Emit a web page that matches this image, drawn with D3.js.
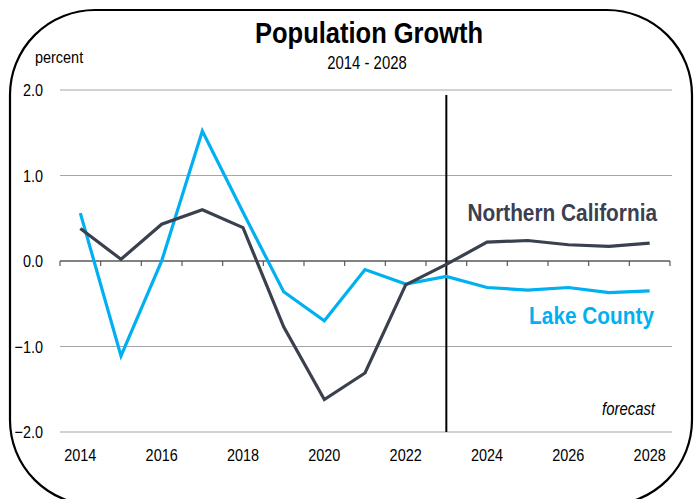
<!DOCTYPE html>
<html>
<head>
<meta charset="utf-8">
<script src="https://cdn.jsdelivr.net/npm/d3@7"></script>
<style>
  body { margin: 0; background: #fff; }
  svg { display: block; font-family: "Liberation Sans Narrow", "Arial Narrow", "Liberation Sans", Arial, sans-serif; }
</style>
</head>
<body>
<svg id="chart" width="694" height="499"></svg>
<script>
// Data
const years = d3.range(2014, 2029);
const norCal = [0.38, 0.02, 0.43, 0.60, 0.39, -0.77, -1.62, -1.31, -0.28, -0.04, 0.22, 0.24, 0.19, 0.17, 0.21];
const lakeCounty = [0.56, -1.11, 0.0, 1.52, 0.57, -0.36, -0.70, -0.10, -0.27, -0.18, -0.31, -0.34, -0.31, -0.37, -0.35];
const yTicks = [-2, -1, 0, 1, 2];
const xLabels = [2014, 2016, 2018, 2020, 2022, 2024, 2026, 2028];
const forecastStart = 2023;

const darkColor = "#3b404f",
  blueColor = "#00b0f0",
  gridColor = "#a6a6a6",
  narrow = 0.85; // squeeze Liberation Sans to look like Arial Narrow

const margin = { top: 90, right: 22, bottom: 67, left: 60 },
  width = 694 - margin.left - margin.right,
  height = 499 - margin.top - margin.bottom;

const svg = d3.select("#chart");

// Text helper: horizontally condensed text
function narrowText(parent, x, y, txt, size, anchor) {
  return parent.append("text")
    .attr("transform", "translate(" + x + "," + y + ") scale(" + narrow + ",1)")
    .attr("text-anchor", anchor || "start")
    .attr("font-size", size)
    .attr("fill", "#000")
    .text(txt);
}

// Rounded frame
svg.append("rect")
  .attr("x", 10).attr("y", 10)
  .attr("width", 682).attr("height", 495)
  .attr("rx", 85).attr("ry", 85)
  .attr("fill", "none")
  .attr("stroke", "#000")
  .attr("stroke-width", 2.2);

// Titles
narrowText(svg, 369, 43, "Population Growth", 30, "middle").attr("font-weight", "bold");
narrowText(svg, 367, 69, "2014 - 2028", 17.5, "middle");
narrowText(svg, 35, 63, "percent", 17);

const g = svg.append("g").attr("transform", "translate(" + margin.left + "," + margin.top + ")");

const xBand = d3.scaleBand().domain(years).range([0, width - 2]);
const xPos = d => xBand(d) + xBand.bandwidth() / 2;
const y = d3.scaleLinear().domain([-2, 2]).range([height, 0]);

// Gridlines (not at zero)
g.selectAll(".grid")
  .data(yTicks.filter(d => d !== 0))
  .enter().append("line")
  .attr("x1", 0).attr("x2", width)
  .attr("y1", d => y(d)).attr("y2", d => y(d))
  .attr("stroke", gridColor)
  .attr("stroke-width", 1.2);

// Y labels
yTicks.forEach(d => {
  narrowText(g, -17, y(d) + 6, d3.format(".1f")(d), 17, "end");
});

// Zero axis with ticks at band edges
g.append("line")
  .attr("x1", 0).attr("x2", width - 2)
  .attr("y1", y(0)).attr("y2", y(0))
  .attr("stroke", "#595959")
  .attr("stroke-width", 1.4);

g.selectAll(".tick")
  .data(years.map(d => xBand(d)).concat([width - 2]))
  .enter().append("line")
  .attr("x1", d => d).attr("x2", d => d)
  .attr("y1", y(0)).attr("y2", y(0) + 5)
  .attr("stroke", "#595959")
  .attr("stroke-width", 1.2);

// X labels
xLabels.forEach(d => {
  narrowText(g, xPos(d), height + 29, d, 17, "middle");
});

// Forecast divider
g.append("line")
  .attr("x1", xPos(forecastStart)).attr("x2", xPos(forecastStart))
  .attr("y1", 5).attr("y2", height)
  .attr("stroke", "#000")
  .attr("stroke-width", 2);

narrowText(g, 595, 325, "forecast", 17.5, "end").attr("font-style", "italic");

// Lines
const line = d3.line()
  .x((d, i) => xPos(years[i]))
  .y(d => y(d));

g.append("path")
  .datum(lakeCounty)
  .attr("d", line)
  .attr("fill", "none")
  .attr("stroke", blueColor)
  .attr("stroke-width", 3.2)
  .attr("stroke-linejoin", "miter");

g.append("path")
  .datum(norCal)
  .attr("d", line)
  .attr("fill", "none")
  .attr("stroke", darkColor)
  .attr("stroke-width", 3.2)
  .attr("stroke-linejoin", "miter");

// Series labels
narrowText(g, 597, 131, "Northern California", 24.5, "end")
  .attr("font-weight", "bold").attr("fill", darkColor);

narrowText(g, 594, 234, "Lake County", 24.5, "end")
  .attr("font-weight", "bold").attr("fill", blueColor);
</script>
</body>
</html>
